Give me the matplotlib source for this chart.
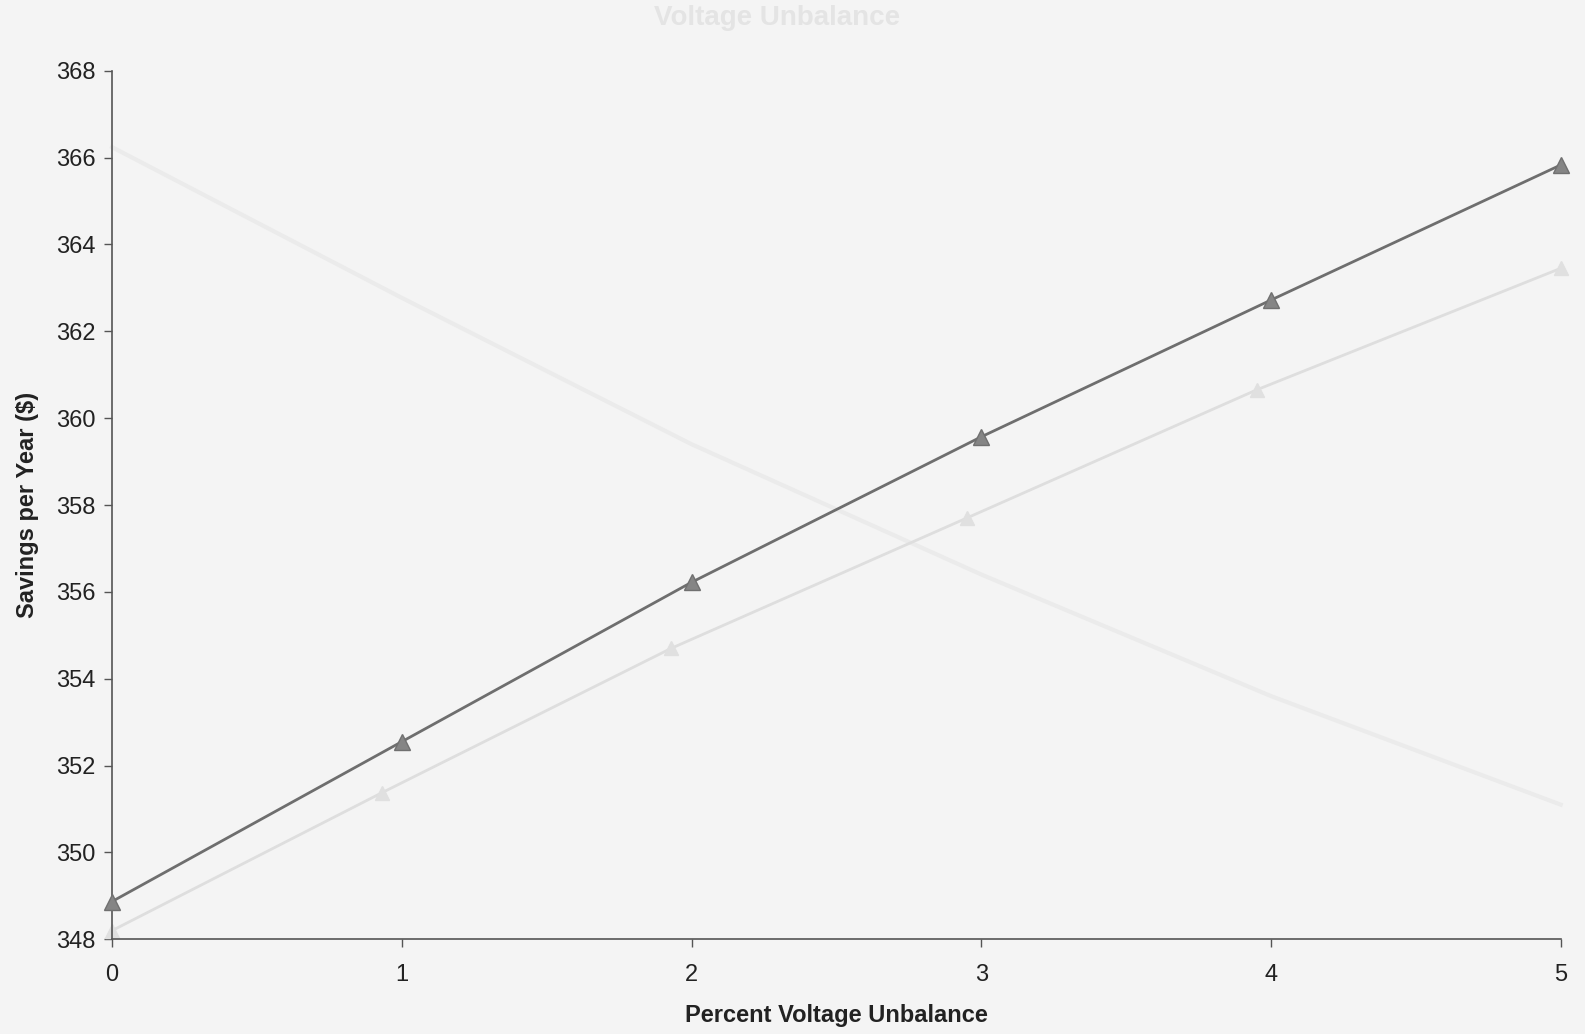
import numpy as np
import matplotlib.pyplot as plt

plt.rcParams['font.family'] = ['Liberation Sans', 'DejaVu Sans']

# main series
unbalance = [0, 1, 2, 3, 4, 5]
savings = [348.87, 352.55, 356.22, 359.57, 362.72, 365.83]

# faint bleed-through from the reverse page
ghost_x = [0, 0.93, 1.93, 2.95, 3.95, 5.0]
ghost_up = [348.2, 351.37, 354.7, 357.7, 360.65, 363.45]
ghost_down_x = [0, 1, 2, 3, 4, 5]
ghost_down = [366.24, 362.77, 359.4, 356.4, 353.6, 351.1]

bg = '#f4f4f4'
fig = plt.figure(figsize=(15.85, 10.34), dpi=100, facecolor=bg)
ax = fig.add_axes([0.0707, 0.0916, 0.914, 0.84])
ax.set_facecolor(bg)

ax.plot(ghost_down_x, ghost_down, color='#ebebeb', lw=3, zorder=1, clip_on=False)
ax.plot(ghost_x, ghost_up, color='#dedede', lw=2, marker='^', ms=10,
        mfc='#e0e0e0', mec='#e0e0e0', zorder=2, clip_on=False)
ax.plot(unbalance, savings, color='#6e6e6e', lw=2.0, marker='^', ms=11,
        mfc='#858585', mec='#707070', zorder=3, clip_on=False)

ax.set_xlim(0, 5)
ax.set_ylim(348, 368)
ax.set_xticks(range(0, 6))
ax.set_yticks(np.arange(348, 369, 2))
ax.tick_params(direction='out', length=6, width=1, colors='#555555',
               labelcolor='#222222', labelsize=17)
ax.tick_params(axis='x', pad=12)
ax.tick_params(axis='y', pad=6)
for s in ['top', 'right']:
    ax.spines[s].set_visible(False)
for s in ['left', 'bottom']:
    ax.spines[s].set_color('#555555')
    ax.spines[s].set_linewidth(1.2)

ax.set_xlabel('Percent Voltage Unbalance', fontsize=17, fontweight='bold',
              color='#222222', labelpad=13)
ax.set_ylabel('Savings per Year ($)', fontsize=17, fontweight='bold',
              color='#222222', labelpad=12)

# ghost title from the reverse page
fig.text(0.49, 0.983, 'Voltage Unbalance', fontsize=20, fontweight='bold',
         color='#e4e4e4', ha='center', va='center')

fig.savefig('out.png', dpi=100, facecolor=bg)
